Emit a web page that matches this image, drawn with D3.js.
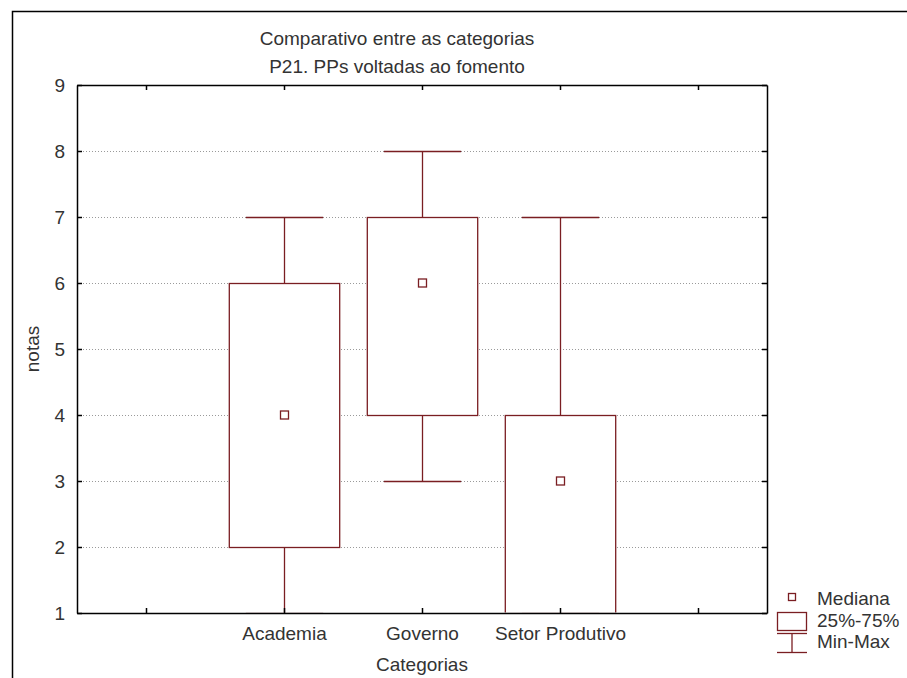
<!DOCTYPE html>
<html>
<head>
<meta charset="utf-8">
<script src="https://cdn.jsdelivr.net/npm/d3@7/dist/d3.min.js"></script>
<style>
  html, body { margin: 0; padding: 0; background: #fff; }
  svg { display: block; }
  text { font-family: "Liberation Sans", Arial, sans-serif; fill: #333; }
</style>
</head>
<body>
<svg id="chart" width="907" height="678"></svg>
<script>
// ---- data ----
const categories = ["Academia", "Governo", "Setor Produtivo"];
const minValues    = [1, 3, 1];
const q1Values     = [2, 4, 1];
const medianValues = [4, 6, 3];
const q3Values     = [6, 7, 4];
const maxValues    = [7, 8, 7];
const yTickValues  = [1, 2, 3, 4, 5, 6, 7, 8, 9];
const xTickValues  = [0, 1, 2, 3, 4];
const titleLines   = ["Comparativo entre as categorias", "P21. PPs voltadas ao fomento"];
const legendLabels = ["Mediana", "25%-75%", "Min-Max"];

// ---- layout ----
const W = 907, H = 678;
const plot = { left: 77, right: 767, top: 85, bottom: 613 };
const boxColor = "#7a1e22";
const fontSize = 19;

const svg = d3.select("#chart");

svg.append("defs").append("clipPath").attr("id", "plotclip")
  .append("rect")
  .attr("x", plot.left).attr("y", plot.top)
  .attr("width", plot.right - plot.left).attr("height", plot.bottom - plot.top - 0.5);

const x = d3.scaleLinear().domain([-0.5, 4.5]).range([plot.left, plot.right]);
const y = d3.scaleLinear().domain([1, 9]).range([plot.bottom, plot.top]);
const unit = x(1) - x(0);
const boxW = unit * 0.8;
const capW = unit * 0.56;

// outer frame (left & top edges visible)
svg.append("path")
  .attr("d", `M12.5,${H} L12.5,11.5 L${W},11.5`)
  .attr("fill", "none").attr("stroke", "#000").attr("stroke-width", 1.5);

// title
svg.selectAll("text.title").data(titleLines).join("text")
  .attr("class", "title")
  .attr("x", 397).attr("y", (d, i) => 45 + i * 28)
  .attr("text-anchor", "middle")
  .style("font-size", fontSize + "px")
  .text(d => d);

// gridlines
svg.append("g").selectAll("line")
  .data(yTickValues.filter(v => v > 1 && v < 9))
  .join("line")
  .attr("x1", plot.left).attr("x2", plot.right)
  .attr("y1", d => Math.round(y(d)) + 0.5).attr("y2", d => Math.round(y(d)) + 0.5)
  .attr("stroke", "#9a9a9a").attr("stroke-width", 1)
  .attr("stroke-dasharray", "1,2");

// boxes
const stats = categories.map((c, i) => ({
  c, pos: i + 1, min: minValues[i], q1: q1Values[i], med: medianValues[i], q3: q3Values[i], max: maxValues[i]
}));

const g = svg.append("g").attr("clip-path", "url(#plotclip)");
stats.forEach(s => {
  const cx = Math.round(x(s.pos)) + 0.5;
  // whisker lines
  g.append("line").attr("x1", cx).attr("x2", cx)
    .attr("y1", y(s.max)).attr("y2", y(s.q3))
    .attr("stroke", boxColor).attr("stroke-width", 1.3);
  g.append("line").attr("x1", cx).attr("x2", cx)
    .attr("y1", y(s.q1)).attr("y2", y(s.min))
    .attr("stroke", boxColor).attr("stroke-width", 1.3);
  // caps
  [s.max, s.min].forEach(v => {
    g.append("line").attr("x1", cx - capW / 2).attr("x2", cx + capW / 2)
      .attr("y1", Math.round(y(v)) + 0.5).attr("y2", Math.round(y(v)) + 0.5)
      .attr("stroke", boxColor).attr("stroke-width", 1.3);
  });
  // box
  g.append("rect")
    .attr("x", cx - boxW / 2).attr("width", boxW)
    .attr("y", Math.round(y(s.q3)) + 0.5).attr("height", y(s.q1) - y(s.q3))
    .attr("fill", "#fff").attr("stroke", boxColor).attr("stroke-width", 1.3);
  // median marker
  g.append("rect")
    .attr("x", cx - 4).attr("y", Math.round(y(s.med)) - 4)
    .attr("width", 8).attr("height", 8)
    .attr("fill", "#fff").attr("stroke", boxColor).attr("stroke-width", 1.3);
});

// axes (drawn on top of boxes)
const axLeft = d3.axisLeft(y).tickValues(yTickValues).tickSizeInner(-5).tickSizeOuter(0).tickPadding(12);
const axRight = d3.axisRight(y).tickValues(yTickValues).tickSizeInner(-5).tickSizeOuter(0).tickFormat("");
const axBottom = d3.axisBottom(x).tickValues(xTickValues).tickSizeInner(-5).tickSizeOuter(0).tickPadding(14)
  .tickFormat(d => categories[d - 1] || "");
const axTop = d3.axisTop(x).tickValues(xTickValues).tickSizeInner(-5).tickSizeOuter(0).tickFormat("");

function styleAxis(sel) {
  sel.selectAll("path.domain").attr("stroke", "#000").attr("stroke-width", 1.5);
  sel.selectAll(".tick line").attr("stroke", "#000").attr("stroke-width", 1.5);
  sel.selectAll(".tick text").attr("fill", "#333").style("font-size", fontSize + "px")
    .style("font-family", '"Liberation Sans", Arial, sans-serif');
}
svg.append("g").attr("transform", `translate(${plot.left},0)`).call(axLeft).call(styleAxis);
svg.append("g").attr("transform", `translate(${plot.right},0)`).call(axRight).call(styleAxis);
svg.append("g").attr("transform", `translate(0,${plot.bottom})`).call(axBottom).call(styleAxis);
svg.append("g").attr("transform", `translate(0,${plot.top})`).call(axTop).call(styleAxis);

// axis titles
svg.append("text")
  .attr("x", x(2)).attr("y", 671)
  .attr("text-anchor", "middle")
  .style("font-size", fontSize + "px")
  .text("Categorias");
svg.append("text")
  .attr("transform", `translate(39,${(plot.top + plot.bottom) / 2}) rotate(-90)`)
  .attr("text-anchor", "middle")
  .style("font-size", fontSize + "px")
  .text("notas");

// legend
const lg = svg.append("g");
lg.append("rect").attr("x", 788.5).attr("y", 593.5).attr("width", 7).attr("height", 7)
  .attr("fill", "#fff").attr("stroke", boxColor).attr("stroke-width", 1.3);
lg.append("rect").attr("x", 777.5).attr("y", 612.5).attr("width", 29).attr("height", 18)
  .attr("fill", "#fff").attr("stroke", boxColor).attr("stroke-width", 1.3);
lg.append("line").attr("x1", 777).attr("x2", 807).attr("y1", 633.5).attr("y2", 633.5)
  .attr("stroke", boxColor).attr("stroke-width", 1.3);
lg.append("line").attr("x1", 792).attr("x2", 792).attr("y1", 633.5).attr("y2", 652.5)
  .attr("stroke", boxColor).attr("stroke-width", 1.3);
lg.append("line").attr("x1", 777).attr("x2", 807).attr("y1", 652.5).attr("y2", 652.5)
  .attr("stroke", boxColor).attr("stroke-width", 1.3);
lg.selectAll("text").data(legendLabels).join("text")
  .attr("x", 817).attr("y", (d, i) => 605 + i * 21.5)
  .style("font-size", fontSize + "px")
  .text(d => d);
</script>
</body>
</html>
